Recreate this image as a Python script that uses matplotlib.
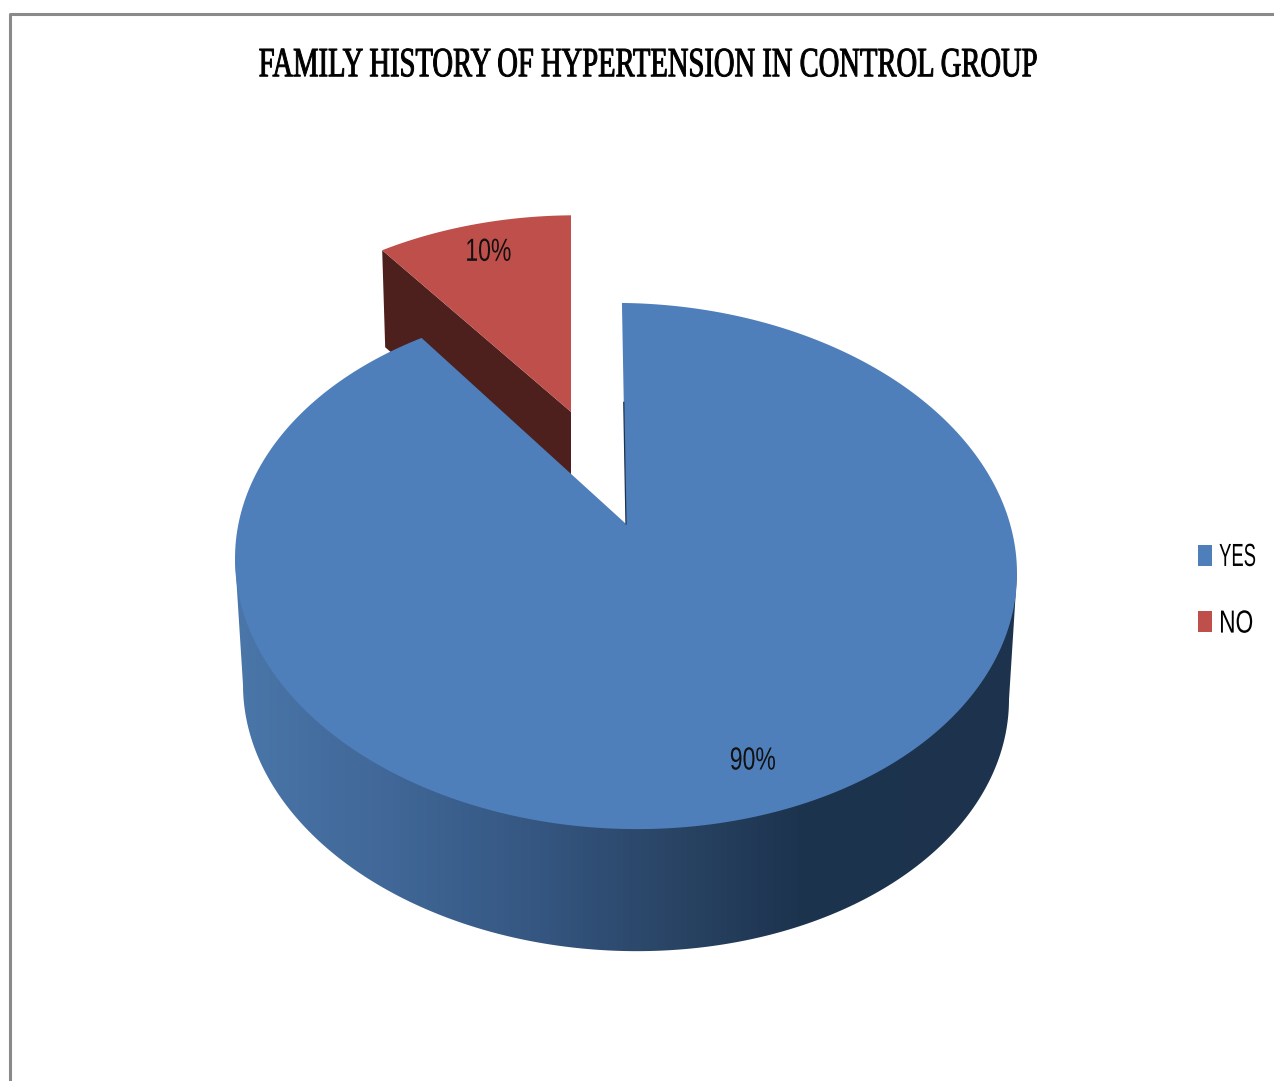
import matplotlib
matplotlib.use("Agg")
import matplotlib.pyplot as plt
import numpy as np
from matplotlib.patches import Polygon, Patch
from matplotlib.patheffects import AbstractPathEffect
from matplotlib.transforms import Affine2D

title = "FAMILY HISTORY OF HYPERTENSION IN CONTROL GROUP"
categories = ["YES", "NO"]
shares = [90, 10]
colors = ["#4f7fbb", "#be4f4b"]

# ellipse of the pie's top face, in pixels
cx, cy, rx, ry = 626, 566, 391, 263
persp = 0.16      # how far the pie centre sits behind the ellipse centre
shear = 0.019
depth = 126
base_rx = 383
start_turn = -0.7

# the pulled out slice
pull = (-55, -112)
pull_scale_x = 0.94
pull_scale_y = 0.89
pull_turn = 0.7
pull_shear = -0.027
wall_depth = 97


class Squeeze(AbstractPathEffect):
    # narrows text horizontally around a fixed pixel column, optionally taller too
    def __init__(self, factor, pivot, stretch=1.0, pivot_y=0.0, weight=0.0):
        super().__init__()
        self.factor = factor
        self.pivot = pivot
        self.stretch = stretch
        self.pivot_y = pivot_y
        self.weight = weight

    def draw_path(self, renderer, gc, tpath, affine, rgbFace=None):
        squeeze = (Affine2D().translate(-self.pivot, -self.pivot_y)
                   .scale(self.factor, self.stretch)
                   .translate(self.pivot, self.pivot_y))
        gc0 = renderer.new_gc()
        gc0.copy_properties(gc)
        if self.weight:
            gc0.set_linewidth(self.weight)
            gc0.set_foreground(rgbFace)
        renderer.draw_path(gc0, tpath, affine + squeeze, rgbFace)
        gc0.restore()


def project(theta, r=1.0):
    # theta in degrees clockwise from the top of the pie
    t = np.radians(theta)
    X = r * np.sin(t)
    Y = r * np.cos(t)
    d = 1 + persp * Y
    u = X * np.sqrt(1 - persp**2) / d
    v = (Y + persp) / d
    x = cx + rx * u
    y = cy - ry * v + shear * rx * u
    return x, y


def arc(a, b, r=1.0, n=300):
    return project(np.linspace(a, b, n), r)


fig = plt.figure(figsize=(12.74, 10.81), dpi=100)
ax = fig.add_axes([0, 0, 1, 1])
ax.set_xlim(0, 1274)
ax.set_ylim(1081, 0)
ax.axis("off")

# chart frame: only top and left edges fall inside the canvas
ax.plot([9.5, 9.5, 1280], [1090, 14, 14], color="#8a8a8a", lw=2.2, zorder=1)

yes_span = shares[0] / sum(shares) * 360
no_span = shares[1] / sum(shares) * 360
yes_start = start_turn
yes_end = yes_start + yes_span
no_start = yes_end + pull_turn
no_end = no_start + no_span

# pulled out slice, drawn first so the big slice hides its wall
ax0, ay0 = project(0, 0)
tip_x, tip_y = ax0 + pull[0], ay0 + pull[1]


def pulled(x, y):
    px = pull_scale_x * (x - ax0)
    return tip_x + px, tip_y + pull_scale_y * (y - ay0) + pull_shear * px


xs, ys = pulled(*arc(no_start, no_end, n=80))
wall = [(xs[0], ys[0]), (xs[0] + 3, ys[0] + wall_depth),
        (tip_x, tip_y + wall_depth), (tip_x, tip_y)]
ax.add_patch(Polygon(wall, closed=True, fc="#4d1f1d", ec="none", zorder=2))
ax.add_patch(Polygon(np.r_[[[tip_x, tip_y]], np.c_[xs, ys]], closed=True,
                     fc=colors[1], ec="none", zorder=3))

# side of the pie with its horizontal shading
lower = np.linspace(np.pi, 0, 300)
bx = cx + base_rx * np.cos(lower)
by = cy + depth + ry * np.sin(lower) * 0.985 + shear * base_rx * np.cos(lower)
side_pts = np.r_[[[cx - rx, cy - shear * rx]], np.c_[bx, by], [[cx + rx, cy + shear * rx]]]
side = Polygon(side_pts, closed=True, fc="none", ec="none", zorder=4)
ax.add_patch(side)
ramp = matplotlib.colors.LinearSegmentedColormap.from_list(
    "side", [(0, "#4a76a9"), (0.2, "#406797"), (0.4, "#34557f"),
             (0.55, "#2a4566"), (0.72, "#1d344f"), (1, "#1c324d")])
im = ax.imshow(np.linspace(0, 1, 256)[None, :], cmap=ramp, aspect="auto",
               extent=[cx - rx, cx + rx, 960, 500], zorder=4)
im.set_clip_path(side)
ax.set_xlim(0, 1274)
ax.set_ylim(1081, 0)

# top face of the big slice
xs, ys = arc(yes_start, yes_end)
ax.add_patch(Polygon(np.r_[[[ax0, ay0]], np.c_[xs, ys]], closed=True,
                     fc=colors[0], ec="none", zorder=5))
ex, ey = project(yes_start)
ax.plot([ax0, ax0 + 0.55 * (ex - ax0)], [ay0, ay0 + 0.55 * (ey - ay0)],
        color="#1d344f", lw=0.9, zorder=6)

label_font = ["Liberation Sans", "DejaVu Sans"]

# value labels
lx, ly = project(yes_start + yes_span / 2 - 1, 0.85)
t = ax.text(lx, ly, f"{shares[0]}%", ha="center", va="center", fontsize=23,
            family=label_font, color="#111111", zorder=7)
t.set_path_effects([Squeeze(0.72, lx)])
mx, my = pulled(*project(no_start + no_span / 2, 0.83))
t = ax.text(mx, my, f"{shares[1]}%", ha="center", va="center", fontsize=23,
            family=label_font, color="#111111", zorder=7)
t.set_path_effects([Squeeze(0.72, mx)])

t = ax.text(648, 66, title, ha="center", va="center", fontsize=30,
            family=["Liberation Serif", "DejaVu Serif"], color="black")
t.set_path_effects([Squeeze(0.686, 648, weight=0.7)])

handles = [Patch(fc=c, ec="none") for c in colors]
leg = ax.legend(handles, categories, loc="center left",
                bbox_to_anchor=(1198 / 1274, 1 - 591 / 1081),
                frameon=False, prop={"family": label_font, "size": 19.5},
                handlelength=0.52, handleheight=0.81, handletextpad=0.26,
                labelspacing=1.5, borderpad=0, borderaxespad=0)

# squeeze the legend words around their own left edges
fig.canvas.draw()
for txt, factor in zip(leg.get_texts(), [0.68, 0.84]):
    box = txt.get_window_extent()
    txt.set_path_effects([Squeeze(factor, box.x0, 1.18, 0.5 * (box.y0 + box.y1))])

fig.savefig("out.png", dpi=100)
